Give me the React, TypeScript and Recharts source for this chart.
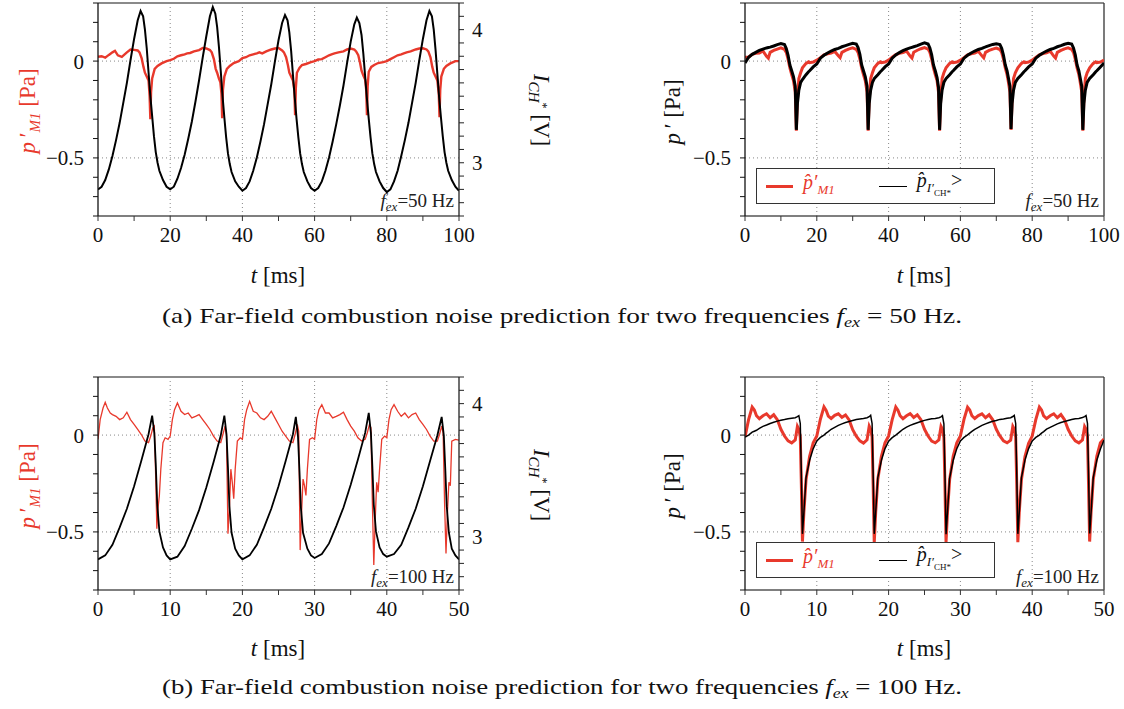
import React from "react";
import { LineChart, Line, XAxis, YAxis, ReferenceLine, Legend } from "recharts";

const RED = "#e8392c";
const FONT = "'Liberation Serif', 'DejaVu Serif', serif";

// ---------- (a) f_ex = 50 Hz, left panel ----------
const tlBlackT = [
  0, 1, 2, 3, 4, 5, 6, 7, 8, 9, 10, 11, 11.8, 12.5, 13, 13.5, 14, 14.5, 15, 15.5, 16, 16.5, 17, 18, 19,
  20, 21, 22, 23, 24, 25, 26, 27, 28, 29, 30, 31, 31.8, 32.5, 33, 33.5, 34, 34.5, 35, 35.5, 36, 36.5, 37, 38, 39,
  40, 41, 42, 43, 44, 45, 46, 47, 48, 49, 50, 51, 51.8, 52.5, 53, 53.5, 54, 54.5, 55, 55.5, 56, 56.5, 57, 58, 59,
  60, 61, 62, 63, 64, 65, 66, 67, 68, 69, 70, 71, 71.7, 72.4, 73, 73.5, 74, 74.5, 75, 75.5, 76, 76.5, 77, 78, 79,
  80, 81, 82, 83, 84, 85, 86, 87, 88, 89, 90, 91, 91.8, 92.5, 93, 93.5, 94, 94.5, 95, 95.5, 96, 96.5, 97, 98, 99,
  100,
];
const tlBlackV = [
  2.8, 2.82, 2.87, 2.95, 3.05, 3.17, 3.3, 3.45, 3.6, 3.77, 3.93, 4.07, 4.14, 4.1, 4.0, 3.86, 3.68, 3.5, 3.35, 3.2, 3.08, 3.0, 2.94, 2.87, 2.82,
  2.8, 2.82, 2.88, 2.96, 3.06, 3.18, 3.31, 3.46, 3.62, 3.79, 3.95, 4.1, 4.17, 4.12, 4.02, 3.87, 3.69, 3.5, 3.34, 3.19, 3.07, 2.99, 2.93, 2.86, 2.82,
  2.79, 2.81, 2.86, 2.94, 3.04, 3.16, 3.29, 3.44, 3.59, 3.76, 3.92, 4.05, 4.11, 4.07, 3.98, 3.84, 3.66, 3.49, 3.33, 3.19, 3.07, 2.99, 2.93, 2.86, 2.81,
  2.79, 2.81, 2.86, 2.94, 3.04, 3.16, 3.29, 3.43, 3.58, 3.75, 3.91, 4.04, 4.09, 4.05, 3.96, 3.82, 3.65, 3.48, 3.33, 3.19, 3.07, 2.99, 2.93, 2.86, 2.81,
  2.78, 2.8, 2.86, 2.94, 3.05, 3.17, 3.3, 3.45, 3.6, 3.77, 3.93, 4.07, 4.14, 4.1, 4.0, 3.85, 3.67, 3.49, 3.34, 3.2, 3.08, 3.0, 2.94, 2.87, 2.82,
  2.79,
];
const tlRedT = [
  0, 1, 2, 3, 4, 4.7, 5.5, 6.6, 8, 9, 10, 11, 11.5, 12.1, 12.6, 13, 13.5, 14, 14.3, 14.5, 14.7, 15, 15.7, 16.5, 17.6, 19,
  20, 21, 22, 23, 24, 24.7, 25.5, 26.6, 28, 29, 30, 31, 31.5, 32.1, 32.6, 33, 33.5, 33.9, 34.2, 34.4, 34.6, 35, 35.7, 36.5, 37.6, 39,
  40, 41, 42, 43, 44, 44.7, 45.5, 46.6, 48, 49, 50, 51, 51.5, 52.1, 52.6, 53, 53.5, 54, 54.4, 54.6, 54.8, 55.1, 55.8, 56.5, 57.6, 59,
  60, 61, 62, 63, 64, 64.7, 65.5, 66.6, 68, 69, 70, 71, 71.5, 72.1, 72.6, 73, 73.5, 74, 74.3, 74.5, 74.7, 75, 75.7, 76.5, 77.6, 79,
  80, 81, 82, 83, 84, 84.7, 85.5, 86.6, 88, 89, 90, 91, 91.5, 92.1, 92.6, 93, 93.5, 94, 94.4, 94.6, 94.8, 95.1, 95.8, 96.5, 97.6, 99,
  100,
];
const tlRedV = [
  0.022, 0.025, 0.018, 0.032, 0.045, 0.053, 0.03, 0.022, 0.045, 0.06, 0.058, 0.055, 0.045, 0.014, -0.03, -0.06, -0.08, -0.1, -0.18, -0.3, -0.16, -0.09, -0.04, -0.025, -0.012, 0.0,
  0.005, 0.012, 0.025, 0.03, 0.035, 0.04, 0.042, 0.05, 0.057, 0.068, 0.065, 0.057, 0.045, 0.01, -0.04, -0.06, -0.09, -0.11, -0.17, -0.295, -0.15, -0.08, -0.04, -0.025, -0.01, 0.0,
  0.015, 0.02, 0.03, 0.035, 0.04, 0.045, 0.04, 0.05, 0.06, 0.065, 0.068, 0.055, 0.045, 0.02, -0.02, -0.06, -0.08, -0.1, -0.15, -0.28, -0.14, -0.06, -0.035, -0.02, -0.015, -0.005,
  0.0, 0.008, 0.01, 0.02, 0.03, 0.035, 0.04, 0.045, 0.05, 0.06, 0.065, 0.06, 0.05, 0.03, -0.01, -0.05, -0.075, -0.095, -0.15, -0.28, -0.13, -0.055, -0.03, -0.02, -0.01, -0.005,
  0.0, 0.01, 0.02, 0.03, 0.035, 0.04, 0.045, 0.05, 0.06, 0.065, 0.066, 0.06, 0.05, 0.02, -0.03, -0.06, -0.08, -0.1, -0.17, -0.29, -0.15, -0.08, -0.04, -0.025, -0.012, 0.0,
  0.0,
];

// ---------- (a) f_ex = 50 Hz, right panel ----------
const trT = [
  0, 1, 2, 3, 4, 5, 6, 6.5, 7, 8, 9, 10, 11, 11.5, 12, 12.5, 13, 13.5, 14, 14.3, 14.6, 15, 15.5, 16, 17, 17.7, 18, 19,
  20, 21, 22, 23, 24, 25, 26, 26.5, 27, 28, 29, 30, 31, 31.5, 32, 32.5, 33, 33.5, 34, 34.3, 34.6, 35, 35.5, 36, 37, 37.7, 38, 39,
  40, 41, 42, 43, 44, 45, 46, 46.5, 47, 48, 49, 50, 51, 51.5, 52, 52.5, 53, 53.5, 53.9, 54.2, 54.5, 54.9, 55.4, 56, 57, 57.7, 58, 59,
  60, 61, 62, 63, 64, 65, 66, 66.5, 67, 68, 69, 70, 71, 71.5, 72, 72.5, 73, 73.3, 73.8, 74.1, 74.4, 74.8, 75.3, 76, 77, 77.7, 78, 79,
  80, 81, 82, 83, 84, 85, 86, 86.5, 87, 88, 89, 90, 91, 91.5, 92, 92.5, 93, 93.3, 93.8, 94.1, 94.4, 94.8, 95.3, 96, 97, 97.7, 98, 99,
  100,
];
const trBlack = [
  -0.01, 0.02, 0.035, 0.045, 0.055, 0.062, 0.068, 0.07, 0.072, 0.078, 0.085, 0.09, 0.085, 0.065, 0.03, -0.02, -0.05, -0.08, -0.13, -0.355, -0.22, -0.15, -0.11, -0.095, -0.07, -0.055, -0.05, -0.03,
  -0.015, 0.015, 0.03, 0.042, 0.052, 0.06, 0.066, 0.07, 0.074, 0.08, 0.086, 0.092, 0.088, 0.07, 0.035, -0.02, -0.05, -0.08, -0.13, -0.355, -0.22, -0.15, -0.11, -0.09, -0.07, -0.055, -0.05, -0.03,
  -0.015, 0.015, 0.032, 0.044, 0.054, 0.062, 0.068, 0.071, 0.074, 0.08, 0.088, 0.094, 0.088, 0.068, 0.032, -0.02, -0.05, -0.085, -0.135, -0.355, -0.22, -0.15, -0.11, -0.09, -0.07, -0.055, -0.05, -0.03,
  -0.015, 0.015, 0.03, 0.042, 0.052, 0.06, 0.066, 0.07, 0.073, 0.08, 0.086, 0.09, 0.086, 0.066, 0.03, -0.02, -0.05, -0.08, -0.13, -0.35, -0.22, -0.15, -0.11, -0.09, -0.07, -0.055, -0.05, -0.03,
  -0.015, 0.015, 0.03, 0.042, 0.052, 0.06, 0.066, 0.07, 0.074, 0.08, 0.087, 0.092, 0.088, 0.068, 0.032, -0.02, -0.05, -0.08, -0.13, -0.355, -0.22, -0.15, -0.11, -0.09, -0.07, -0.055, -0.05, -0.03,
  -0.01,
];
const trRed = [
  0.02, 0.02, 0.035, 0.04, 0.042, 0.052, 0.025, 0.015, 0.045, 0.055, 0.062, 0.068, 0.06, 0.045, 0.01, -0.035, -0.07, -0.1, -0.16, -0.36, -0.2, -0.09, -0.06, -0.035, -0.012, -0.004, -0.008, -0.005,
  0.005, 0.018, 0.032, 0.038, 0.042, 0.05, 0.028, 0.018, 0.045, 0.055, 0.063, 0.068, 0.06, 0.045, 0.01, -0.035, -0.07, -0.1, -0.16, -0.36, -0.2, -0.09, -0.06, -0.035, -0.012, -0.004, -0.008, -0.005,
  0.005, 0.02, 0.033, 0.04, 0.044, 0.052, 0.026, 0.016, 0.046, 0.056, 0.064, 0.07, 0.062, 0.045, 0.01, -0.035, -0.07, -0.1, -0.16, -0.36, -0.2, -0.09, -0.06, -0.035, -0.012, -0.004, -0.008, -0.005,
  0.005, 0.018, 0.032, 0.038, 0.042, 0.05, 0.027, 0.017, 0.045, 0.055, 0.062, 0.067, 0.06, 0.044, 0.01, -0.035, -0.07, -0.1, -0.16, -0.355, -0.2, -0.09, -0.06, -0.035, -0.012, -0.004, -0.008, -0.005,
  0.005, 0.019, 0.032, 0.039, 0.043, 0.051, 0.026, 0.016, 0.045, 0.055, 0.063, 0.068, 0.06, 0.045, 0.01, -0.035, -0.07, -0.1, -0.16, -0.36, -0.2, -0.09, -0.06, -0.035, -0.012, -0.004, -0.008, -0.005,
  0.005,
];

// ---------- (b) f_ex = 100 Hz, left panel ----------
const blBlackT = [
  0, 1, 2, 3, 4, 5, 6, 7, 7.5, 7.8, 8, 8.2, 8.5, 9, 9.5,
  10, 11, 12, 13, 14, 15, 16, 17, 17.5, 17.8, 18, 18.2, 18.5, 19, 19.5,
  20, 21, 22, 23, 24, 25, 26, 27, 27.4, 27.7, 27.9, 28.1, 28.4, 29, 29.5,
  30, 31, 32, 33, 34, 35, 36, 37, 37.5, 37.8, 38, 38.2, 38.5, 39, 39.5,
  40, 41, 42, 43, 44, 45, 46, 47, 47.6, 47.9, 48.1, 48.3, 48.6, 49, 49.5,
  50,
];
const blBlackV = [
  2.83, 2.86, 2.94, 3.07, 3.21, 3.38, 3.57, 3.77, 3.91, 3.78, 3.55, 3.25, 3.04, 2.92, 2.86,
  2.83, 2.85, 2.93, 3.06, 3.2, 3.37, 3.56, 3.76, 3.91, 3.77, 3.52, 3.23, 3.03, 2.91, 2.86,
  2.83, 2.86, 2.94, 3.07, 3.21, 3.38, 3.57, 3.77, 3.9, 3.75, 3.5, 3.22, 3.03, 2.91, 2.86,
  2.84, 2.87, 2.95, 3.08, 3.22, 3.39, 3.58, 3.78, 3.93, 3.78, 3.53, 3.24, 3.04, 2.92, 2.87,
  2.85, 2.87, 2.94, 3.07, 3.21, 3.38, 3.57, 3.76, 3.9, 3.76, 3.51, 3.23, 3.03, 2.91, 2.86,
  2.83,
];
const blRedT = [
  0, 0.3, 0.7, 1.0, 1.3, 1.7, 2.0, 2.5, 3.0, 3.5, 4.0, 4.5, 5.0, 5.5, 6.0, 6.5, 7.0, 7.3, 7.6, 7.8, 8.0, 8.15, 8.3, 8.5, 8.7, 9.0, 9.3, 9.7,
  10.0, 10.3, 10.6, 11.0, 11.5, 12.0, 12.5, 13.0, 13.5, 14.0, 14.5, 15.0, 15.5, 16.0, 16.5, 17.0, 17.3, 17.6, 17.8, 18.0, 18.2, 18.4, 18.6, 18.8, 19.0, 19.3, 19.7,
  20.0, 20.3, 20.6, 21.0, 21.5, 22.0, 22.5, 23.0, 23.5, 24.0, 24.5, 25.0, 25.5, 26.0, 26.5, 27.0, 27.3, 27.6, 27.8, 28.0, 28.2, 28.4, 28.6, 28.8, 29.0, 29.3, 29.7,
  30.0, 30.3, 30.6, 31.0, 31.5, 32.0, 32.5, 33.0, 33.5, 34.0, 34.5, 35.0, 35.5, 36.0, 36.5, 37.0, 37.3, 37.6, 37.8, 38.0, 38.2, 38.4, 38.6, 38.8, 39.0, 39.3, 39.7,
  40.0, 40.3, 40.6, 41.0, 41.5, 42.0, 42.5, 43.0, 43.5, 44.0, 44.5, 45.0, 45.5, 46.0, 46.5, 47.0, 47.3, 47.6, 47.8, 48.0, 48.2, 48.4, 48.6, 48.8, 49.0, 49.5, 50.0,
];
const blRedV = [
  -0.022, 0.08, 0.14, 0.169, 0.14, 0.114, 0.106, 0.097, 0.08, 0.089, 0.118, 0.08, 0.055, 0.029, 0.003, -0.031, -0.039, -0.005, 0.038, 0.046, -0.227, -0.483, -0.381, -0.312, -0.176, -0.039, -0.014, -0.022,
  -0.005, 0.08, 0.131, 0.166, 0.123, 0.106, 0.114, 0.089, 0.097, 0.106, 0.08, 0.055, 0.029, -0.005, -0.031, -0.039, 0.003, 0.046, -0.005, -0.509, -0.381, -0.176, -0.244, -0.329, -0.176, -0.031, -0.014,
  -0.022, 0.08, 0.131, 0.174, 0.123, 0.114, 0.089, 0.08, 0.097, 0.123, 0.089, 0.055, 0.02, -0.005, -0.031, -0.039, 0.003, 0.055, 0.02, -0.594, -0.398, -0.227, -0.261, -0.312, -0.176, -0.022, -0.014,
  -0.022, 0.08, 0.131, 0.157, 0.114, 0.114, 0.089, 0.097, 0.106, 0.118, 0.08, 0.046, 0.02, -0.014, -0.031, -0.022, 0.012, 0.055, 0.038, -0.346, -0.671, -0.432, -0.244, -0.295, -0.176, -0.022, -0.005,
  -0.014, 0.08, 0.131, 0.157, 0.123, 0.097, 0.114, 0.089, 0.106, 0.114, 0.08, 0.055, 0.029, -0.005, -0.031, -0.031, 0.003, 0.046, 0.012, -0.346, -0.611, -0.398, -0.244, -0.261, -0.031, -0.022, -0.026,
];

// ---------- (b) f_ex = 100 Hz, right panel ----------
const brT = [
  0, 0.5, 1, 1.3, 1.6, 2, 2.5, 3, 3.5, 4, 4.5, 5, 5.5, 6, 6.5, 7, 7.3, 7.5, 7.7, 7.85, 8, 8.2, 8.5, 9, 9.5,
  10, 10.5, 11, 11.3, 11.6, 12, 12.5, 13, 13.5, 14, 14.5, 15, 15.5, 16, 16.5, 17, 17.3, 17.5, 17.7, 17.85, 18, 18.2, 18.5, 19, 19.5,
  20, 20.5, 21, 21.3, 21.6, 22, 22.5, 23, 23.5, 24, 24.5, 25, 25.5, 26, 26.5, 27, 27.3, 27.5, 27.7, 27.85, 28, 28.2, 28.5, 29, 29.5,
  30, 30.5, 31, 31.3, 31.6, 32, 32.5, 33, 33.5, 34, 34.5, 35, 35.5, 36, 36.5, 37, 37.3, 37.5, 37.7, 37.85, 38, 38.2, 38.5, 39, 39.5,
  40, 40.5, 41, 41.3, 41.6, 42, 42.5, 43, 43.5, 44, 44.5, 45, 45.5, 46, 46.5, 47, 47.3, 47.5, 47.7, 47.85, 48, 48.2, 48.5, 49, 49.5,
  50,
];
const brRed = [
  -0.01, 0.08, 0.145, 0.13, 0.1, 0.085, 0.1, 0.11, 0.09, 0.105, 0.08, 0.03, -0.005, -0.03, -0.04, -0.025, 0.045, 0.03, -0.01, -0.26, -0.55, -0.4, -0.23, -0.11, -0.04,
  -0.005, 0.082, 0.146, 0.128, 0.098, 0.086, 0.102, 0.11, 0.092, 0.104, 0.078, 0.028, -0.006, -0.03, -0.041, -0.024, 0.046, 0.03, -0.01, -0.26, -0.555, -0.4, -0.228, -0.11, -0.04,
  -0.004, 0.08, 0.145, 0.129, 0.1, 0.085, 0.1, 0.111, 0.091, 0.105, 0.08, 0.03, -0.005, -0.031, -0.04, -0.025, 0.045, 0.03, -0.012, -0.262, -0.552, -0.4, -0.23, -0.108, -0.04,
  -0.005, 0.081, 0.144, 0.13, 0.1, 0.086, 0.101, 0.11, 0.09, 0.105, 0.079, 0.03, -0.004, -0.03, -0.04, -0.026, 0.045, 0.031, -0.01, -0.258, -0.553, -0.398, -0.23, -0.11, -0.042,
  -0.005, 0.08, 0.145, 0.13, 0.099, 0.085, 0.1, 0.11, 0.09, 0.106, 0.08, 0.03, -0.005, -0.03, -0.04, -0.025, 0.044, 0.03, -0.01, -0.26, -0.55, -0.4, -0.23, -0.11, -0.04,
  -0.02,
];
const brBlack = [
  -0.01, 0.0, 0.015, 0.02, 0.025, 0.035, 0.045, 0.052, 0.06, 0.066, 0.072, 0.077, 0.08, 0.084, 0.087, 0.09, 0.095, 0.1, 0.06, -0.2, -0.51, -0.4, -0.22, -0.13, -0.07,
  -0.03, -0.012, 0.0, 0.01, 0.018, 0.03, 0.04, 0.05, 0.058, 0.065, 0.07, 0.075, 0.08, 0.083, 0.086, 0.09, 0.095, 0.102, 0.06, -0.2, -0.51, -0.4, -0.22, -0.13, -0.07,
  -0.032, -0.013, 0.0, 0.009, 0.018, 0.03, 0.041, 0.05, 0.057, 0.064, 0.07, 0.076, 0.08, 0.084, 0.086, 0.09, 0.094, 0.1, 0.058, -0.2, -0.512, -0.4, -0.222, -0.13, -0.07,
  -0.03, -0.012, 0.001, 0.01, 0.019, 0.03, 0.04, 0.05, 0.058, 0.065, 0.071, 0.075, 0.081, 0.083, 0.087, 0.09, 0.096, 0.102, 0.06, -0.198, -0.51, -0.4, -0.22, -0.128, -0.07,
  -0.03, -0.012, 0.0, 0.01, 0.018, 0.031, 0.04, 0.049, 0.058, 0.065, 0.07, 0.075, 0.08, 0.084, 0.086, 0.091, 0.095, 0.101, 0.06, -0.2, -0.508, -0.4, -0.22, -0.13, -0.072,
  -0.025,
];

// ticks
const pTicks = [-0.8, -0.7, -0.6, -0.5, -0.4, -0.3, -0.2, -0.1, 0, 0.1, 0.2, 0.3];
const iTicks = [2.6, 2.7, 2.8, 2.9, 3.0, 3.1, 3.2, 3.3, 3.4, 3.5, 3.6, 3.7, 3.8, 3.9, 4.0, 4.1, 4.2];
const t100Ticks = [0, 10, 20, 30, 40, 50, 60, 70, 80, 90, 100];
const t50Ticks = [0, 5, 10, 15, 20, 25, 30, 35, 40, 45, 50];

const zip = (t: number[], v: number[]) => t.map((x, i) => ({ t: x, v: v[i] }));

const near = (a: number, b: number) => Math.abs(a - b) < 1e-6;
const fmtP = (v: number) => (near(v, 0) ? "0" : near(v, -0.5) ? "\u22120.5" : "");
const fmtI = (v: number) => (near(v, 3) ? "3" : near(v, 4) ? "4" : "");
const fmt20 = (v: number) => (Math.round(v) % 20 === 0 ? String(v) : "");
const fmt10 = (v: number) => (Math.round(v) % 10 === 0 ? String(v) : "");

const tickStyle = { fontFamily: FONT, fontSize: 21, fill: "#111" };

function PLegend() {
  return (
    <div
      style={{
        width: 239,
        height: 36,
        boxSizing: "border-box",
        border: "1.5px solid #333",
        background: "#fff",
        display: "flex",
        alignItems: "center",
        fontFamily: FONT,
        fontSize: 20,
        lineHeight: "20px",
      }}
    >
      <span style={{ display: "inline-block", width: 27, height: 3, background: RED, marginLeft: 9 }} />
      <span style={{ color: RED, fontStyle: "italic", marginLeft: 10 }}>
        p̂′<sub style={{ fontSize: 13 }}>M1</sub>
      </span>
      <span style={{ display: "inline-block", width: 28, height: 1, background: "#000", marginLeft: 44 }} />
      <span style={{ marginLeft: 10, color: "#111" }}>
        <i>p̂</i>
        <sub style={{ fontSize: 13 }}>
          <i>I′</i>
          <sub style={{ fontSize: 9 }}>CH*</sub>
        </sub>
        &gt;
      </span>
    </div>
  );
}

type PanelProps = {
  left: number;
  top: number;
  xMax: number;
  xTicks: number[];
  xFmt: (v: number) => string;
  grid: number[];
  red: { t: number; v: number }[];
  black: { t: number; v: number }[];
  blackOnRight: boolean;
  redWidth: number;
  blackWidth: number;
  plotTop: number;
};

function Panel(p: PanelProps) {
  const w = p.blackOnRight ? 560 : 524;
  const leftW = p.blackOnRight ? 98 : 145;
  const rightM = p.blackOnRight ? 61 : 20;
  return (
    <div style={{ position: "absolute", left: p.left, top: p.top }}>
      <LineChart width={w} height={300} margin={{ top: p.plotTop, right: rightM, bottom: 300 - p.plotTop - 213 - 30, left: 0 }}>
        <XAxis
          type="number"
          dataKey="t"
          domain={[0, p.xMax]}
          ticks={p.xTicks}
          tickFormatter={p.xFmt}
          interval={0}
          allowDataOverflow
          height={30}
          tickSize={5}
          tickMargin={6}
          tick={tickStyle}
          axisLine={{ stroke: "#555", strokeWidth: 1.5 }}
          tickLine={{ stroke: "#333" }}
        />
        <YAxis
          yAxisId="p"
          type="number"
          domain={[-0.8, 0.3]}
          ticks={pTicks}
          tickFormatter={fmtP}
          interval={0}
          allowDataOverflow
          width={leftW}
          tickSize={5}
          tickMargin={9}
          tick={tickStyle}
          axisLine={{ stroke: "#111", strokeWidth: 1.3 }}
          tickLine={{ stroke: "#111" }}
        />
        {p.blackOnRight && (
          <YAxis
            yAxisId="i"
            orientation="right"
            type="number"
            domain={[2.6, 4.2]}
            ticks={iTicks}
            tickFormatter={fmtI}
            interval={0}
            allowDataOverflow
            width={40}
            tickSize={5}
            tickMargin={8}
            tick={tickStyle}
            axisLine={{ stroke: "#222", strokeWidth: 1.3 }}
            tickLine={{ stroke: "#222" }}
          />
        )}
        {p.grid.map((g) => (
          <ReferenceLine key={"g" + g} yAxisId="p" x={g} stroke="#888" strokeDasharray="1 3" />
        ))}
        <ReferenceLine yAxisId="p" y={0} stroke="#888" strokeDasharray="1 3" />
        <ReferenceLine yAxisId="p" y={-0.5} stroke="#888" strokeDasharray="1 3" />
        <ReferenceLine yAxisId="p" y={0.3} stroke="#8a8a8a" strokeWidth={2} />
        {!p.blackOnRight && <ReferenceLine yAxisId="p" x={p.xMax} stroke="#333" strokeWidth={1.3} />}
        <Line
          yAxisId="p"
          data={p.red}
          dataKey="v"
          type="linear"
          stroke={RED}
          strokeWidth={p.redWidth}
          dot={false}
          isAnimationActive={false}
        />
        <Line
          yAxisId={p.blackOnRight ? "i" : "p"}
          data={p.black}
          dataKey="v"
          type="linear"
          stroke="#000"
          strokeWidth={p.blackWidth}
          dot={false}
          isAnimationActive={false}
        />
        {!p.blackOnRight && (
          <Legend
            layout="horizontal"
            verticalAlign="middle"
            align="center"
            content={() => <PLegend />}
            wrapperStyle={{ left: 156, top: p.plotTop + 165, width: 239, height: 36 }}
          />
        )}
      </LineChart>
    </div>
  );
}

function Fex({ x, y, hz }: { x: number; y: number; hz: string }) {
  return (
    <text x={x} y={y} textAnchor="end" fontFamily={FONT} fontSize={19} fill="#222">
      <tspan fontStyle="italic">f</tspan>
      <tspan fontStyle="italic" fontSize={13} dy={4}>ex</tspan>
      <tspan dy={-4}>{"=" + hz + " Hz"}</tspan>
    </text>
  );
}

function PTitle({ x, y, red }: { x: number; y: number; red: boolean }) {
  return (
    <text transform={`translate(${x},${y}) rotate(-90)`} textAnchor="middle" fontFamily={FONT} fontSize={23} fill={red ? RED : "#111"}>
      <tspan fontStyle="italic">p</tspan>
      <tspan>{"\u2009\u2032"}</tspan>
      {red && (
        <tspan fontStyle="italic" fontSize={15} dy={5}>
          M1
        </tspan>
      )}
      <tspan dy={red ? -5 : 0}>{" [Pa]"}</tspan>
    </text>
  );
}

function ITitle({ x, y }: { x: number; y: number }) {
  return (
    <text transform={`translate(${x},${y}) rotate(90)`} textAnchor="middle" fontFamily={FONT} fontSize={23} fill="#111">
      <tspan fontStyle="italic">I</tspan>
      <tspan fontStyle="italic" fontSize={15} dy={5}>CH</tspan>
      <tspan fontSize={12} dy={-10}>*</tspan>
      <tspan dy={5}>{" [V]"}</tspan>
    </text>
  );
}

function TTitle({ x, y }: { x: number; y: number }) {
  return (
    <text x={x} y={y} textAnchor="middle" fontFamily={FONT} fontSize={23} fill="#111">
      <tspan fontStyle="italic">t</tspan>
      <tspan>{" [ms]"}</tspan>
    </text>
  );
}

function Caption({ y, tag, hz }: { y: number; tag: string; hz: string }) {
  return (
    <text x={562} y={y} textAnchor="middle" fontFamily={FONT} fontSize={21} fill="#111" textLength={800} lengthAdjust="spacingAndGlyphs">
      <tspan>{`(${tag})  Far-field combustion noise prediction for two frequencies `}</tspan>
      <tspan fontStyle="italic">f</tspan>
      <tspan fontStyle="italic" fontSize={14} dy={4}>ex</tspan>
      <tspan dy={-4}>{` = ${hz} Hz.`}</tspan>
    </text>
  );
}

export default function App() {
  return (
    <div style={{ position: "absolute", left: 0, top: 0, width: 1124, height: 709, background: "#fff" }}>
      <Panel left={0} top={0} plotTop={3} xMax={100} xTicks={t100Ticks} xFmt={fmt20} grid={[20, 40, 60, 80]}
        red={zip(tlRedT, tlRedV)} black={zip(tlBlackT, tlBlackV)} blackOnRight redWidth={2.4} blackWidth={2} />
      <Panel left={600} top={0} plotTop={3} xMax={100} xTicks={t100Ticks} xFmt={fmt20} grid={[20, 40, 60, 80]}
        red={zip(trT, trRed)} black={zip(trT, trBlack)} blackOnRight={false} redWidth={3} blackWidth={3} />
      <Panel left={0} top={370} plotTop={7} xMax={50} xTicks={t50Ticks} xFmt={fmt10} grid={[10, 20, 30, 40]}
        red={zip(blRedT, blRedV)} black={zip(blBlackT, blBlackV)} blackOnRight redWidth={1.3} blackWidth={1.8} />
      <Panel left={600} top={370} plotTop={7} xMax={50} xTicks={t50Ticks} xFmt={fmt10} grid={[10, 20, 30, 40]}
        red={zip(brT, brRed)} black={zip(brT, brBlack)} blackOnRight={false} redWidth={3} blackWidth={1.5} />
      <svg width={1124} height={709} style={{ position: "absolute", left: 0, top: 0, pointerEvents: "none" }}>
        <PTitle x={35} y={111} red />
        <ITitle x={534} y={110} />
        <PTitle x={680} y={112} red={false} />
        <TTitle x={278} y={283} />
        <TTitle x={924} y={283} />
        <Fex x={454} y={207} hz="50" />
        <Fex x={1099} y={207} hz="50" />
        <Caption y={323} tag="a" hz="50" />

        <PTitle x={35} y={486} red />
        <ITitle x={534} y={485} />
        <PTitle x={680} y={486} red={false} />
        <TTitle x={278} y={656} />
        <TTitle x={924} y={656} />
        <Fex x={454} y={583} hz="100" />
        <Fex x={1099} y={583} hz="100" />
        <Caption y={694} tag="b" hz="100" />
      </svg>
    </div>
  );
}
